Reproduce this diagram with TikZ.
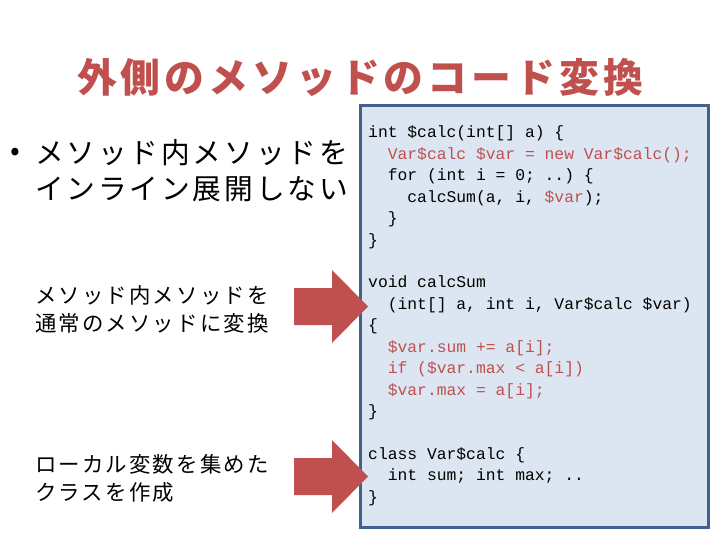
\documentclass[tikz,border=0pt]{standalone}
\usepackage{fontspec}
\setmonofont{Liberation Mono}
\newfontfamily\jpfont{Noto Sans CJK JP}[LetterSpace=10]
\usetikzlibrary{positioning}
\definecolor{slidered}{RGB}{192,80,77}
\definecolor{boxblue}{RGB}{65,98,140}
\definecolor{paleblue}{RGB}{220,230,242}
\newcommand{\rc}[1]{\textcolor{slidered}{#1}}
\newcommand{\indt}[1]{\phantom{#1}}
\tikzset{
  titletext/.style={font=\jpfont\bfseries\fontsize{40}{48}\selectfont,text=slidered,inner sep=0pt},
  bullettext/.style={font=\jpfont\fontsize{28.8}{36}\selectfont,align=left,anchor=west,inner sep=0pt},
  notetext/.style={font=\jpfont\fontsize{21.5}{28}\selectfont,align=left,anchor=west,inner sep=0pt},
  codebox/.style={draw=boxblue,fill=paleblue,line width=3bp},
  codetext/.style={font=\ttfamily\fontsize{16.4}{21.5}\selectfont,anchor=base west,inner sep=0pt},
  bigarrow/.style={fill=slidered}
}
\begin{document}
\begin{tikzpicture}[x=1bp,y=-1bp]
    \useasboundingbox (0,0) rectangle (720,540);
    % --- title and left column
    \node[titletext] (title) at (360,77) {外側のメソッドのコード変換};
    \node[bullettext] (dot)   at (10,154) {•};
    \node[bullettext] (point) at (35,171) {メソッド内メソッドを\\インライン展開しない};
    \node[notetext] (inner) at (35,309)   {メソッド内メソッドを\\通常のメソッドに変換};
    \node[notetext] (local) at (35,478.5) {ローカル変数を集めた\\クラスを作成};
    % --- code box
    \draw[codebox] (360,106) rectangle (708,527);
    \node[codetext] (code) at (368,138) {\begin{tabular}[t]{@{}l@{}}
      int \$calc(int[] a) \{\\
      \indt{xx}\rc{Var\$calc \$var = new Var\$calc();}\\
      \indt{xx}for (int i = 0; ..) \{\\
      \indt{xxxx}calcSum(a, i, \rc{\$var});\\
      \indt{xx}\}\\
      \}\\
      \\
      void calcSum\\
      \indt{xx}(int[] a, int i, Var\$calc \$var)\\
      \{\\
      \indt{xx}\rc{\$var.sum += a[i];}\\
      \indt{xx}\rc{if (\$var.max < a[i])}\\
      \indt{xx}\rc{\$var.max = a[i];}\\
      \}\\
      \\
      class Var\$calc \{\\
      \indt{xx}int sum; int max; ..\\
      \}
    \end{tabular}};
    % --- block arrows
    \fill[bigarrow] (294,288) -- (332,288) -- (332,270) -- (368,306.5)
      -- (332,343) -- (332,325) -- (294,325) -- cycle;
    \fill[bigarrow] (294,458) -- (332,458) -- (332,440) -- (368,476.5)
      -- (332,513) -- (332,495) -- (294,495) -- cycle;
\end{tikzpicture}
\end{document}
